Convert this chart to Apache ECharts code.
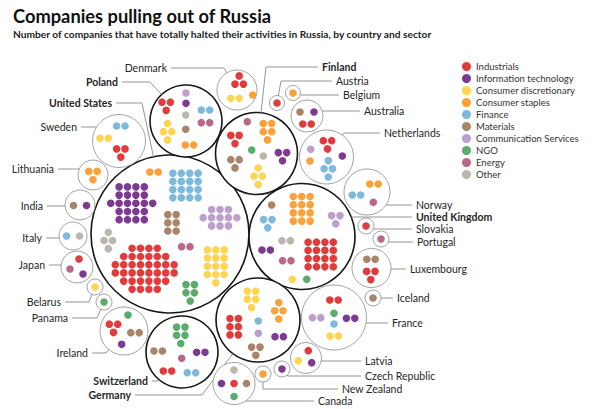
<!DOCTYPE html>
<html><head><meta charset="utf-8">
<script src="https://cdn.jsdelivr.net/npm/echarts@6/dist/echarts.min.js"></script>
<style>html,body{margin:0;padding:0;background:#fff}#c{width:600px;height:409px}</style>
</head><body><div id="c"></div>
<script>
// ---------- DATA ----------
const sectors = ['Industrials','Information technology','Consumer discretionary','Consumer staples','Finance','Materials','Communication Services','NGO','Energy','Other'];
const countries = ['United States','United Kingdom','Finland','Poland','Germany','Switzerland','France','Denmark','Sweden','Netherlands','Luxembourg','Norway','Ireland','Canada','Australia','Japan','Latvia','Lithuania','India','Italy','Austria','Belgium','Slovakia','Portugal','Iceland','Czech Republic','New Zealand','Belarus','Panama'];
const industrials  = [36,16,3,3,6,2,2,3,3,3,3,0,3,1,2,1,1,0,0,0,1,0,1,0,0,0,0,0,0];
const infoTech     = [22,2,3,1,2,2,2,0,0,1,0,0,1,1,1,1,1,0,1,0,0,0,0,0,0,1,0,0,0];
const consDisc     = [13,1,4,4,5,0,2,2,2,0,0,0,0,0,0,0,1,0,0,0,0,0,0,0,0,0,0,1,0];
const consStaples  = [2,12,5,2,4,0,0,1,0,1,0,2,0,0,0,0,0,3,0,0,0,1,0,0,0,0,1,0,0];
const finance      = [16,3,0,2,1,2,1,0,2,4,0,2,0,0,0,0,0,0,0,1,0,0,0,0,0,0,0,0,0];
const materials    = [6,1,3,1,3,2,0,0,0,0,2,0,2,1,1,0,0,0,1,0,0,0,0,0,1,0,0,0,0];
const commServices = [11,3,0,1,1,0,2,0,0,1,0,0,0,0,0,0,0,0,0,0,0,0,0,0,0,0,0,0,0];
const ngo          = [5,1,1,0,0,5,1,0,0,0,0,0,1,1,0,0,0,0,0,0,0,0,0,0,0,0,0,0,1];
const energy       = [2,2,1,2,0,1,0,0,0,0,0,1,0,0,0,1,0,0,0,0,0,0,0,1,0,0,0,0,0];
const other        = [4,2,1,1,0,0,0,0,0,0,0,0,0,1,0,0,0,0,0,1,0,0,0,0,0,0,0,0,0];
const boldCountries = ['United States','United Kingdom','Finland','Poland','Germany','Switzerland'];
const sectorCounts = [industrials, infoTech, consDisc, consStaples, finance, materials, commServices, ngo, energy, other];

// ---------- STYLE / LAYOUT ----------
const colors = ['#e13b3c','#7c3b91','#fdd550','#f9a23a','#7db9dc','#a8846a','#bd9fcd','#5bab6b','#b8698a','#bdb6ad'];
const layout = {
 'United States': {c:[170,234], r:79, off:{0:[-25.3,34.8],1:[-38.3,-30.7],2:[45.8,32.3],3:[-16,-62],4:[15.5,-48.5],5:[2,-11.2],6:[50,-16.3],7:[20.2,58.8],8:[15.8,12.7],9:[-61.7,6.5]}, lab:[112,103,'r',142]},
 'United Kingdom': {c:[302,236.5], r:53, off:{0:[18.7,18],1:[-35.8,13.5],2:[-9.7,42.8],3:[-0.3,-27.7],4:[-34.2,-12.8],5:[-30.3,-31.5],6:[33.8,-16.8],7:[4.7,42.8],8:[-15.2,24.2],9:[-15.8,4.2]}, lab:[416,217,'l',null]},
 'Finland': {c:[256.5,153.5], r:41, off:{0:[-21.5,-14],1:[26,3.2],2:[1.7,22.7],3:[11,-21.8],5:[-21.5,10.3],7:[-4.8,-3.5],8:[-9.2,-31.8],9:[6.8,2.5]}, lab:[322,67,'l',266]},
 'Poland': {c:[186,121], r:36, off:{0:[-19.8,-14.7],1:[0,-17.7],2:[-18.5,10.7],3:[3.5,24],4:[19.5,-11],5:[-0.3,8.3],6:[0,-28],8:[19.5,1.7],9:[-0.3,-6]}, lab:[118,82,'r',150]},
 'Germany': {c:[258,320], r:42, off:{0:[-23.8,6.7],1:[21.2,16.7],2:[-6.5,-20.7],3:[20.8,-9.2],4:[0.3,1],5:[-2.2,31.2],6:[0.3,13.3]}, lab:[131,395,'r',202]},
 'Switzerland': {c:[182,352], r:36, off:{0:[-14.5,19],1:[18.8,0.3],4:[9.5,20.7],5:[-23.8,-1],7:[-1.2,-16.7],8:[-0.3,6.3]}, lab:[148,381,'r',158]},
 'France': {c:[334,317.5], r:32.5, off:{0:[0,-17.5],1:[16.6,0.8],2:[0.3,18.5],4:[0,6.5],6:[-17.4,0.2],7:[0,-4.2]}, lab:[392,323,'l',null]},
 'Denmark': {c:[237,90], r:20, off:{0:[2.2,-10],2:[-2,8.3],3:[15.7,5]}, flip:[0], lab:[167,68,'r',224]},
 'Sweden': {c:[119,141], r:26.5, off:{0:[1.8,12],2:[-14.8,-2.7],4:[1.8,-15]}, lab:[77,127,'r',null]},
 'Netherlands': {c:[326.5,157], r:27, off:{0:[1,-12.2],1:[15.8,-1],3:[-16.5,4],4:[1.8,11.8],6:[-15.8,-7.7]}, lab:[384,133,'l',344]},
 'Luxembourg': {c:[371.5,268], r:19.5, off:{0:[-0.7,7.5],5:[-0.5,-8.7]}, lab:[410,269,'l',null]},
 'Norway': {c:[367,192], r:23, off:{3:[7,-8],4:[-10.5,3],8:[6.3,10.3]}, lab:[416,205,'l',null]},
 'Ireland': {c:[124,331], r:24, off:{0:[-10.5,-2.7],1:[-2.3,13.3],5:[11,1.7],7:[4,-16]}, lab:[88,353,'r',106]},
 'Canada': {c:[234,383.5], r:21, off:{0:[0,0],1:[-12.5,0],5:[12.5,0],7:[0,13],9:[0,-13.5]}, lab:[318,401,'l',null]},
 'Australia': {c:[307,116], r:16, off:{0:[0,8],1:[7,-4],5:[-7,-4]}, lab:[364,111,'l',null]},
 'Japan': {c:[77,267], r:16, off:{0:[2,-8],1:[6,7],8:[-7,2]}, lab:[45,265,'r',null]},
 'Latvia': {c:[306,358], r:15.5, off:{0:[2.3,-7.3],1:[5.7,4.7],2:[-7.7,2.7]}, lab:[365,361,'l',null]},
 'Lithuania': {c:[93,175], r:15, off:{3:[0,0.5]}, lab:[54,169,'r',null]},
 'India': {c:[80,205], r:15, off:{1:[6.5,0.5],5:[-6.5,0.5]}, lab:[43,206,'r',null]},
 'Italy': {c:[73,236], r:14, off:{4:[-6.5,0],9:[6.5,0]}, lab:[42,238,'r',null]},
 'Austria': {c:[277,103], r:7.5, off:{0:[0,0]}, lab:[336,81,'l',281]},
 'Belgium': {c:[293,93], r:7.5, off:{3:[0,0]}, lab:[343,95,'l',null]},
 'Slovakia': {c:[366,226], r:8, off:{0:[0,0]}, lab:[416,229,'l',null]},
 'Portugal': {c:[381,239], r:8, off:{8:[0,0]}, lab:[417,242,'l',null]},
 'Iceland': {c:[373,298], r:8, off:{5:[0,0]}, lab:[397,298,'l',null]},
 'Czech Republic': {c:[282,369], r:8, off:{1:[0,0]}, lab:[365,376,'l',288]},
 'New Zealand': {c:[263,374], r:8, off:{3:[0,0]}, lab:[342,389,'l',263]},
 'Belarus': {c:[95,287], r:8, off:{2:[0,0]}, lab:[61,302,'r',89]},
 'Panama': {c:[104,302], r:8, off:{7:[0,0]}, lab:[68,318,'r',97]}
};
const DOT_STEP = 8.4, ROW_STEP = 8.2, DOT_SIZE = 7.6;
const FONT = 'Lato, "Noto Sans", sans-serif';

function rowsFor(n){
  const m = {1:[1],2:[2],3:[2,1],4:[1,2,1],5:[2,2,1],6:[2,2,2],7:[2,3,2],11:[3,5,3],12:[3,3,3,3],13:[3,3,3,3,1],16:[4,4,4,4],22:[4,4,6,4,4],36:[4,6,8,8,6,4]};
  if (m[n]) return m[n].slice();
  const cols = Math.ceil(Math.sqrt(n)); const rows = []; let left = n;
  while (left > 0) { rows.push(Math.min(cols, left)); left -= cols; }
  return rows;
}
function clusterDots(cx, cy, n, flip){
  const rows = rowsFor(n); if (flip) rows.reverse();
  const pts = []; const R = rows.length;
  rows.forEach((k, i) => {
    const y = cy + (i - (R - 1) / 2) * ROW_STEP;
    for (let j = 0; j < k; j++) pts.push([cx + (j - (k - 1) / 2) * DOT_STEP, y]);
  });
  return pts;
}

const dotSeries = sectors.map((name, s) => {
  const data = [];
  countries.forEach((cn, i) => {
    const n = sectorCounts[s][i]; if (!n) return;
    const L = layout[cn]; const o = L.off[s] || [0,0];
    const flip = L.flip && L.flip.indexOf(s) >= 0;
    clusterDots(L.c[0] + o[0], L.c[1] + o[1], n, flip).forEach(p => data.push(p));
  });
  return { type:'scatter', name, data, symbol:'circle', symbolSize: DOT_SIZE, z: 5,
           itemStyle:{ color: colors[s], opacity: 1 }, silent:true };
});

const circleSeries = {
  type:'custom', name:'countries', coordinateSystem:'cartesian2d', z: 2, silent:true,
  data: countries.map((cn, i) => [layout[cn].c[0], layout[cn].c[1], i]),
  renderItem(params, api){
    const cn = countries[api.value(2)]; const L = layout[cn];
    const bold = boldCountries.indexOf(cn) >= 0;
    const c = api.coord([L.c[0], L.c[1]]);
    const r = api.size([L.r, 0])[0];
    const lab = L.lab;
    const t = api.coord([lab[0], lab[1]]);
    const right = lab[2] === 'l';
    const start = [t[0] + (right ? -4 : 4), t[1]];
    let pts;
    if (lab[3] === null) {
      const dy = t[1] - c[1];
      const dx = Math.sqrt(Math.max(r*r - dy*dy, 0));
      pts = [start, [c[0] + (right ? dx : -dx), t[1]]];
    } else {
      const e = api.coord([lab[3], lab[1]]);
      const vx = e[0] - c[0], vy = e[1] - c[1]; const d = Math.hypot(vx, vy);
      pts = [start, e, [c[0] + vx / d * r, c[1] + vy / d * r]];
    }
    return { type:'group', children:[
      { type:'circle', shape:{cx:c[0], cy:c[1], r}, style:{ fill:'#fff', stroke: bold ? '#161616' : '#a3a3a3', lineWidth: bold ? 1.6 : 1 } },
      { type:'polyline', shape:{ points: pts }, style:{ fill:null, stroke:'#959595', lineWidth:1 } },
      { type:'text', style:{ text: cn, x: t[0], y: t[1], align: right ? 'left' : 'right', verticalAlign:'middle',
          font: (bold ? 'bold ' : '') + '10.5px ' + FONT, fill:'#262626' } }
    ]};
  }
};

const chart = echarts.init(document.getElementById('c'), null, {renderer:'svg'});
chart.setOption({
  animation:false,
  backgroundColor:'#fff',
  title:{ text:'Companies pulling out of Russia', subtext:'Number of companies that have totally halted their activities in Russia, by country and sector',
    left:8, top:2, itemGap:4,
    textStyle:{ fontFamily:FONT, fontSize:18.3, fontWeight:'bold', color:'#111' },
    subtextStyle:{ fontFamily:FONT, fontSize:10.2, fontWeight:'bold', color:'#222' } },
  legend:{ data: sectors, orient:'vertical', left:457, top:56.5, itemWidth:9, itemHeight:9, itemGap:2, icon:'circle',
    textStyle:{ fontFamily:FONT, fontSize:9.5, color:'#333' }, selectedMode:false },
  grid:{ left:0, right:0, top:0, bottom:0 },
  xAxis:{ type:'value', min:0, max:600, show:false },
  yAxis:{ type:'value', min:0, max:409, inverse:true, show:false },
  series:[circleSeries].concat(dotSeries)
});
</script></body></html>
